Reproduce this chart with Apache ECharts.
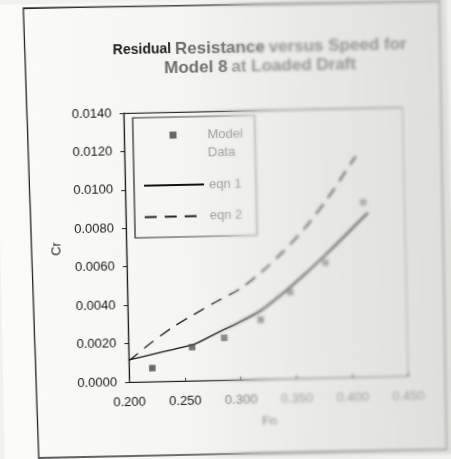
<!DOCTYPE html>
<html>
<head>
<meta charset="utf-8">
<script src="https://cdn.jsdelivr.net/npm/echarts@6/dist/echarts.min.js"></script>
<style>
  html, body { margin: 0; padding: 0; background: #f1f1ee; overflow: hidden; }
  #chart { width: 451px; height: 459px; transform: rotate(-1.2deg); transform-origin: 225.5px 229.5px; }
  /* out-of-focus right half of the printed sheet */
  #soft {
    position: absolute; left: 0; top: 0; width: 451px; height: 459px; pointer-events: none;
    backdrop-filter: blur(1.6px); -webkit-backdrop-filter: blur(1.6px);
    -webkit-mask-image: linear-gradient(to right, transparent 205px, #000 265px);
    mask-image: linear-gradient(to right, transparent 205px, #000 265px);
  }
</style>
</head>
<body>
<div id="chart"></div>
<div id="soft"></div>
<script>
// Model test results and the two fitted resistance curves (Fn vs Cr)
const fnModel = [0.221, 0.257, 0.286, 0.319, 0.346, 0.378, 0.413];
const crModel = [0.0007, 0.00175, 0.0022, 0.0031, 0.0045, 0.0060, 0.0091];

const fnEqn1 = [0.200, 0.220, 0.240, 0.260, 0.280, 0.300, 0.320, 0.340, 0.360, 0.380, 0.400, 0.417];
const crEqn1 = [0.00115, 0.00140, 0.00165, 0.00192, 0.00247, 0.00300, 0.00360, 0.00448, 0.00545, 0.00650, 0.00760, 0.00855];

const fnEqn2 = [0.200, 0.220, 0.240, 0.260, 0.280, 0.300, 0.320, 0.340, 0.360, 0.380, 0.400, 0.407];
const crEqn2 = [0.00110, 0.00200, 0.00280, 0.00347, 0.00410, 0.00470, 0.00555, 0.00660, 0.00780, 0.00925, 0.01090, 0.01150];

const fnTicks = [0.200, 0.250, 0.300, 0.350, 0.400, 0.450];
const crTicks = [0.0000, 0.0020, 0.0040, 0.0060, 0.0080, 0.0100, 0.0120, 0.0140];

const seriesNames = ['Model\nData', 'eqn 1', 'eqn 2'];
const titleLines = [['Residual', 'Resistance', 'versus Speed for'], ['Model 8', 'at Loaded Draft']];
const axisNames = { x: 'Fn', y: 'Cr' };

const pairs = (xs, ys) => xs.map((x, i) => [x, ys[i]]);
const FONT = '"Liberation Sans", Arial, sans-serif';
const LG = echarts.graphic.LinearGradient;

const chart = echarts.init(document.getElementById('chart'), null, { renderer: 'canvas' });

const fadeLine = (dark) => new LG(0, 0, 1, 0, [
  { offset: 0, color: dark }, { offset: 0.35, color: dark },
  { offset: 0.55, color: '#8c8c8c' }, { offset: 1, color: '#a4a4a4' }
]);

const legendText = { fontFamily: FONT, fontSize: 13, color: '#9c9c9c', lineHeight: 18 };
const legendBase = {
  orient: 'vertical', padding: 0, itemGap: 0, selectedMode: false, symbolKeepAspect: true
};

const option = {
  animation: false,
  backgroundColor: new LG(0, 0, 1, 0, [
    { offset: 0, color: '#fbfbfa' }, { offset: 0.4, color: '#f5f5f2' },
    { offset: 0.7, color: '#e8e9e4' }, { offset: 1, color: '#dedfda' }
  ]),
  title: {
    text: '{a|' + titleLines[0][0] + '} {b|' + titleLines[0][1] + '} {c|' + titleLines[0][2] + '}\n' +
          '{b|' + titleLines[1][0] + '} {c|' + titleLines[1][1] + '}',
    left: 263.5, top: 39, textAlign: 'center', padding: 0,
    textStyle: {
      fontFamily: FONT, fontSize: 14, fontWeight: 'bold', lineHeight: 19,
      rich: {
        a: { fontFamily: FONT, fontSize: 14, fontWeight: 'bold', lineHeight: 19, color: '#1c1c1c' },
        b: { fontFamily: FONT, fontSize: 17, fontWeight: 'bold', lineHeight: 19, color: '#6e6e6e' },
        c: { fontFamily: FONT, fontSize: 17, fontWeight: 'bold', lineHeight: 19, color: '#949494' }
      }
    }
  },
  legend: [
    Object.assign({}, legendBase, {
      // square sits beside the first line of its two-line label
      left: 171.5, top: 107, itemWidth: 7, itemHeight: 7,
      data: [{ name: seriesNames[0], icon: 'rect' }],
      formatter: name => ' \n' + name,
      textStyle: Object.assign({}, legendText, { padding: [0, 0, 0, 26] })
    }),
    Object.assign({}, legendBase, {
      left: 144, top: 175, itemWidth: 60, itemHeight: 7, textStyle: legendText,
      data: [{ name: seriesNames[1], itemStyle: { opacity: 0 } }]
    }),
    Object.assign({}, legendBase, {
      left: 144, top: 206.5, itemWidth: 60, itemHeight: 7, textStyle: legendText,
      data: [{ name: seriesNames[2], itemStyle: { opacity: 0 } }]
    })
  ],
  grid: { left: 126, right: 46, top: 111, bottom: 79, show: true, borderColor: '#a8a8a8', borderWidth: 1 },
  xAxis: [{
    type: 'value', min: fnTicks[0], max: fnTicks[fnTicks.length - 1], interval: 0.05,
    name: axisNames.x, nameLocation: 'middle', nameGap: 36,
    nameTextStyle: { fontFamily: FONT, fontSize: 13, color: '#8e8e8e' },
    axisLine: { show: true, lineStyle: { color: fadeLine('#1a1a1a'), width: 1.2 } },
    axisTick: { show: true, inside: true, length: 3, lineStyle: { color: '#444' } },
    splitLine: { show: false },
    axisLabel: {
      margin: 14, fontFamily: FONT, fontSize: 13,
      formatter: v => v.toFixed(3),
      color: v => (v < 0.26 ? '#1a1a1a' : v < 0.32 ? '#7e7e7e' : '#a0a0a0')
    }
  }, {
    type: 'value', position: 'top', min: fnTicks[0], max: fnTicks[fnTicks.length - 1], interval: 0.05,
    axisLine: { show: true, lineStyle: { color: fadeLine('#2a2a2a'), width: 1.1 } },
    axisTick: { show: false }, axisLabel: { show: false }, splitLine: { show: false }
  }],
  yAxis: {
    type: 'value', min: crTicks[0], max: crTicks[crTicks.length - 1], interval: 0.002,
    name: axisNames.y, nameLocation: 'middle', nameGap: 62, nameRotate: 90,
    nameTextStyle: { fontFamily: FONT, fontSize: 13, color: '#1a1a1a' },
    axisLine: { show: true, lineStyle: { color: '#1a1a1a', width: 1.2 } },
    axisTick: { show: true, inside: false, length: 4, lineStyle: { color: '#222' } },
    splitLine: { show: false },
    axisLabel: { margin: 12, fontFamily: FONT, fontSize: 13, color: '#1a1a1a', formatter: v => v.toFixed(4) }
  },
  visualMap: [{
    type: 'continuous', show: false, seriesIndex: 0, dimension: 0, min: 0.20, max: 0.42,
    inRange: { color: ['#444', '#474747', '#4c4c4c', '#545454', '#666', '#7e7e7e', '#8c8c8c',
                       '#939393', '#989898', '#9b9b9b', '#9e9e9e', '#a0a0a0'] }
  }, {
    type: 'continuous', show: false, seriesIndex: [1, 2], dimension: 0, min: 0.20, max: 0.42,
    inRange: { color: ['#111', '#141414', '#1c1c1c', '#2e2e2e', '#5e5e5e', '#838383', '#909090',
                       '#979797', '#9b9b9b', '#9e9e9e', '#a1a1a1', '#a3a3a3'] }
  }],
  series: [{
    name: seriesNames[0], type: 'scatter', symbol: 'rect', symbolSize: 6.5,
    itemStyle: { color: '#444' }, z: 4,
    data: pairs(fnModel, crModel)
  }, {
    name: seriesNames[1], type: 'line', symbol: 'none', smooth: 0.25,
    lineStyle: { color: '#111', width: 1.3, type: 'solid' }, itemStyle: { color: '#111' },
    data: pairs(fnEqn1, crEqn1)
  }, {
    name: seriesNames[2], type: 'line', symbol: 'none', smooth: 0.3,
    lineStyle: { color: '#222', width: 1.3, type: [12, 8] }, itemStyle: { color: '#222' },
    data: pairs(fnEqn2, crEqn2)
  }],
  graphic: [{
    // sheet border
    type: 'polygon', silent: true, z: 0,
    shape: { points: [[28, 4], [444, 6], [442, 454], [34, 454]] },
    style: { fill: 'none', lineWidth: 1.3,
             stroke: new LG(0, 0, 1, 0, [{ offset: 0, color: '#222' }, { offset: 0.5, color: '#555' }, { offset: 1, color: '#9a9a9a' }]) }
  }, {
    // legend frame
    type: 'rect', silent: true, z: 1,
    shape: { x: 135, y: 116, width: 122, height: 120 },
    style: { fill: 'none', lineWidth: 1.2,
             stroke: new LG(0, 0, 1, 0, [{ offset: 0, color: '#222' }, { offset: 0.6, color: '#555' }, { offset: 1, color: '#a0a0a0' }]) }
  }]
};

chart.setOption(option);
</script>
</body>
</html>
